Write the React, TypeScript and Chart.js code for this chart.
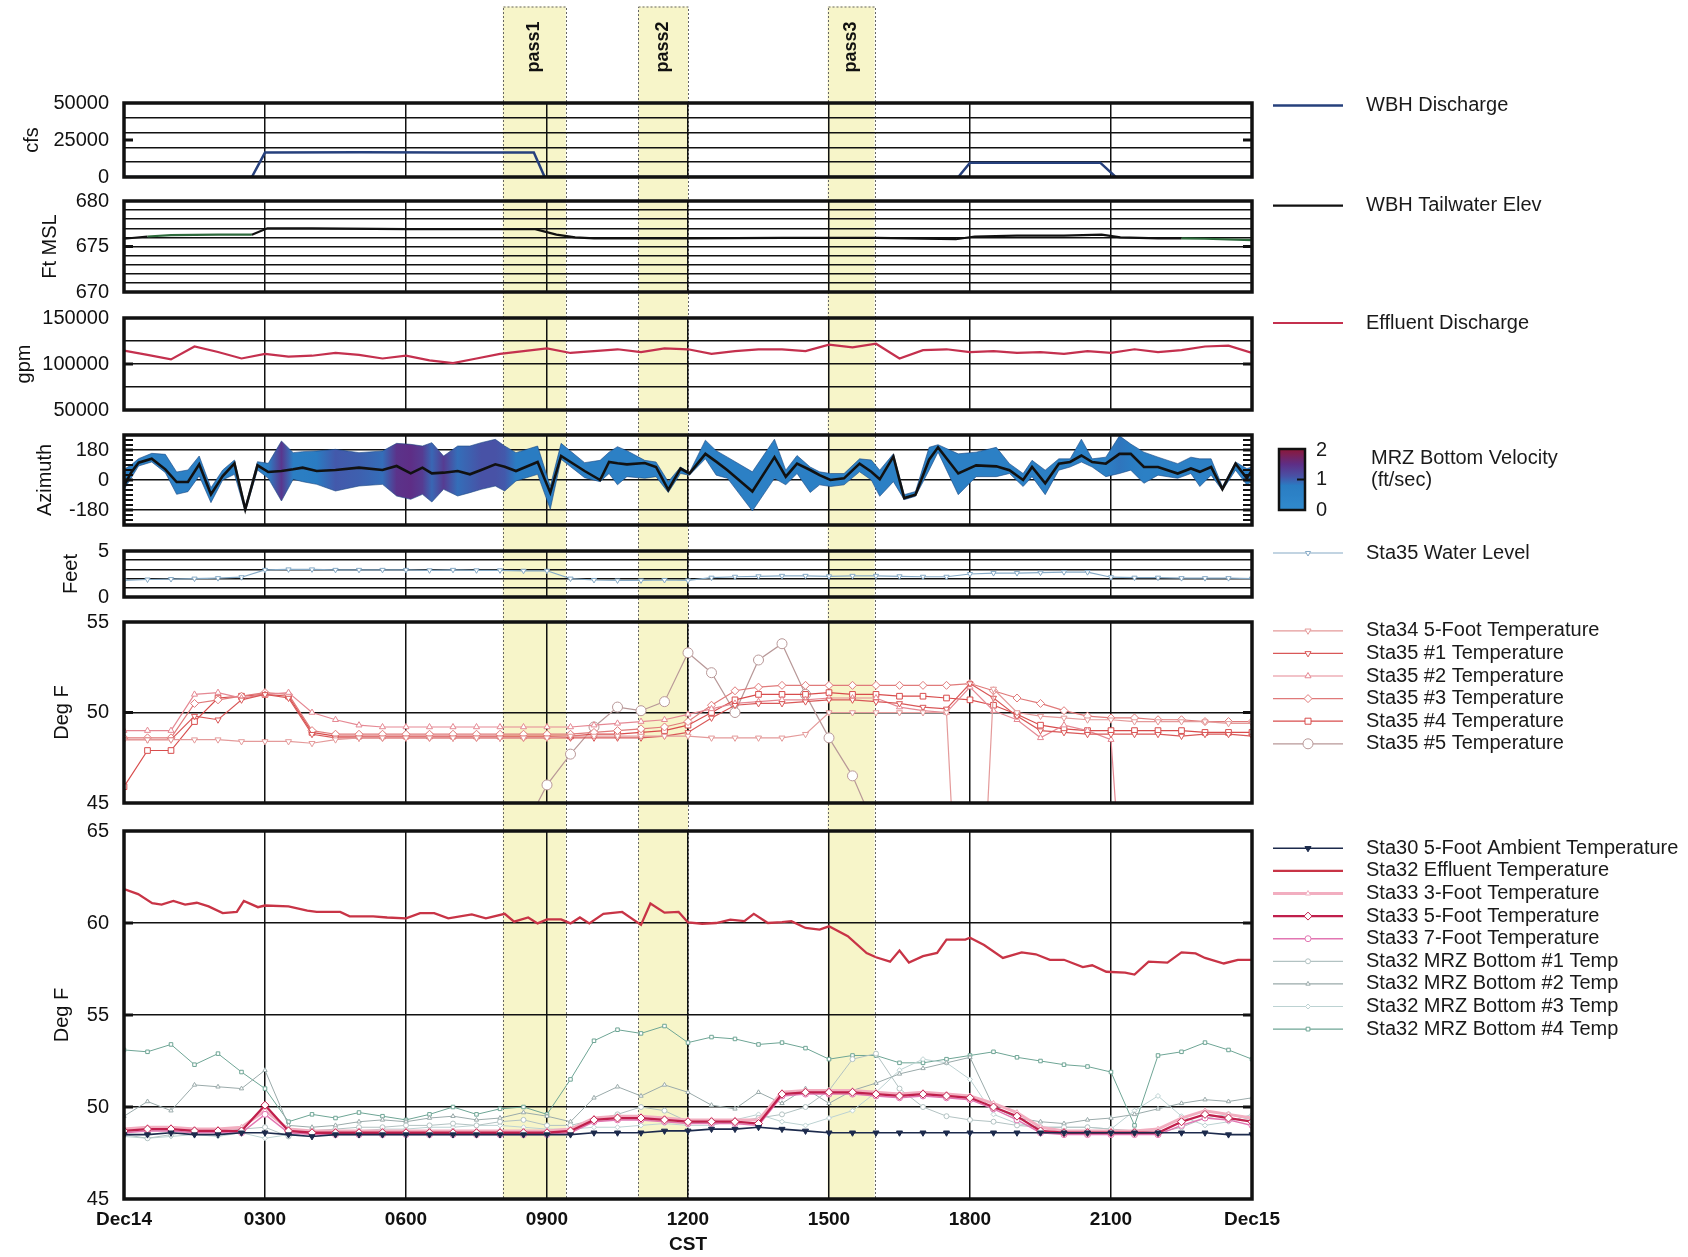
import React, { useEffect, useRef } from 'react';
import { Chart, registerables } from 'chart.js';

Chart.register(...registerables);

const FONT = "'Liberation Sans', Arial, Helvetica, sans-serif";
const W = 1688;
const H = 1257;
const PLOT_L = 124;
const PLOT_R = 1252;

// ---------------- axis / annotation data ----------------
const X_TICKS = [0, 3, 6, 9, 12, 15, 18, 21, 24];
const X_LABELS = ['Dec14', '0300', '0600', '0900', '1200', '1500', '1800', '2100', 'Dec15'];

const PASS_NAMES = ['pass1', 'pass2', 'pass3'];
const PASS_START = [8.06, 10.94, 14.97];
const PASS_END = [9.4, 12.0, 15.97];

const HALF_HOURS = [0, 0.5, 1, 1.5, 2, 2.5, 3, 3.5, 4, 4.5, 5, 5.5, 6, 6.5, 7, 7.5, 8, 8.5, 9, 9.5, 10, 10.5, 11, 11.5, 12, 12.5, 13, 13.5, 14, 14.5, 15, 15.5, 16, 16.5, 17, 17.5, 18, 18.5, 19, 19.5, 20, 20.5, 21, 21.5, 22, 22.5, 23, 23.5, 24];

// ---------------- panel 1: WBH discharge (cfs) ----------------
const WBH_T = [0, 2.72, 3.0, 5.0, 7.0, 8.72, 8.95, 17.75, 18.0, 20.77, 21.1, 24];
const WBH_Q = [0, 0, 16500, 16700, 16500, 16500, 0, 0, 9600, 9700, 0, 0];

// ---------------- panel 2: tailwater elevation (ft MSL) ----------------
const TW_T = [0, 0.5, 1.0, 2.0, 2.72, 3.05, 4, 6, 8.0, 8.75, 9.2, 9.6, 10, 12, 14, 16, 17.7, 18.1, 19, 20, 20.8, 21.2, 22, 22.5, 23, 24];
const TW_V = [675.85, 676.1, 676.25, 676.3, 676.3, 677.0, 677.0, 676.9, 676.9, 676.9, 676.3, 676.0, 675.9, 675.9, 675.95, 675.95, 675.8, 676.1, 676.2, 676.2, 676.3, 676.0, 675.9, 675.9, 675.85, 675.7];

// ---------------- panel 3: effluent discharge (gpm) ----------------
const EFF_Q = [
  114500, 110000, 105000, 119000, 113000, 106000, 111000, 108000, 109000, 112000,
  110000, 106000, 109000, 104000, 101000, 106000, 111000, 114000, 117000, 112000,
  114000, 116000, 113000, 117000, 116000, 111000, 114000, 116000, 116000, 114000,
  121000, 118000, 122000, 106000, 115000, 116000, 113000, 114000, 112000, 113000,
  111000, 114000, 112000, 116000, 113000, 115000, 119000, 120000, 112000,
];

// ---------------- panel 4: MRZ bottom velocity azimuth ----------------
const AZ_T = [
  0, 0.15, 0.31, 0.59, 0.88, 1.12, 1.36, 1.6, 1.85, 2.1,
  2.35, 2.58, 2.84, 3.07, 3.35, 3.6, 3.8, 4.1, 4.5, 5.0,
  5.5, 5.8, 6.1, 6.35, 6.55, 6.8, 7.1, 7.36, 7.6, 7.9,
  8.1, 8.34, 8.8, 9.07, 9.3, 9.8, 10.13, 10.32, 10.5, 10.7,
  11.08, 11.32, 11.58, 11.84, 12.03, 12.37, 12.6, 12.84, 13.37, 13.84,
  14.08, 14.32, 14.6, 14.8, 15.03, 15.32, 15.65, 15.9, 16.08, 16.37,
  16.6, 16.84, 17.13, 17.32, 17.75, 18.13, 18.56, 18.84, 19.13, 19.32,
  19.6, 19.89, 20.13, 20.37, 20.6, 20.89, 21.18, 21.42, 21.7, 22.0,
  22.42, 22.7, 22.89, 23.13, 23.37, 23.65, 23.89, 24,
];
const AZ_MID = [
  -36, 44, 104, 128, 64, -12, -12, 94, -86, 24,
  100, -176, 88, 48, 54, 64, 74, 54, 60, 74,
  60, 84, 40, 74, 40, 44, 54, 34, 60, 94,
  80, 54, 108, -76, 144, 54, 0, 108, 100, 94,
  102, 78, -59, 69, 39, 157, 110, 59, -69, 137,
  20, 98, 60, 29, 0, 10, 98, 50, 4, 141,
  -108, -88, 122, 196, 39, 88, 82, 59, 0, 78,
  -20, 98, 108, 147, 108, 98, 157, 157, 78, 78,
  39, 69, 49, 78, -55, 98, 10, 59,
];
const AZ_HI = [
  64, 90, 128, 160, 154, 48, 60, 144, -46, 60,
  120, -160, 110, 100, 234, 164, 170, 174, 184, 164,
  174, 220, 214, 204, 224, 144, 204, 204, 224, 244,
  204, 164, 204, -36, 220, 104, 118, 167, 200, 176,
  118, 108, -10, 78, 45, 239, 176, 137, 49, 245,
  59, 147, 78, 49, 39, 39, 127, 120, 59, 157,
  -88, -69, 196, 212, 157, 167, 196, 98, 39, 118,
  59, 127, 127, 245, 127, 137, 265, 216, 167, 137,
  98, 137, 127, 127, -39, 108, 69, 78,
];
const AZ_LO = [
  -56, 10, 84, 108, 44, -86, -70, 24, -136, 0,
  34, -190, 60, 10, -126, 4, -10, -26, -66, -36,
  -26, -96, -116, -86, -132, -56, -96, -76, -56, -36,
  -66, -6, 34, -176, 124, 14, -10, 39, -29, 20,
  10, 20, -75, 39, 29, 127, 29, 10, -186, 10,
  -29, 39, -75, -29, -39, -29, 49, 0, -98, -10,
  -118, -98, 59, 167, -88, 20, 20, 39, -39, 20,
  -88, 59, 78, 108, 78, 20, 39, 59, -20, 29,
  10, 39, -39, 29, -63, 59, -29, -10,
];
const AZ_VEL = [
  0.6, 0.6, 0.6, 0.6, 0.6, 0.6, 0.6, 0.6, 0.6, 0.6,
  0.6, 0.6, 0.6, 0.7, 1.4, 0.7, 0.7, 0.8, 1.05, 1.0,
  0.9, 1.45, 1.5, 1.35, 0.95, 1.35, 0.9, 1.0, 1.1, 1.1,
  1.05, 0.8, 0.8, 0.6, 0.6, 0.6, 0.6, 0.6, 0.6, 0.6,
  0.6, 0.6, 0.6, 0.6, 0.6, 0.6, 0.6, 0.6, 0.6, 0.6,
  0.6, 0.6, 0.6, 0.6, 0.6, 0.6, 0.6, 0.6, 0.6, 0.6,
  0.6, 0.6, 0.6, 0.6, 0.6, 0.6, 0.6, 0.6, 0.6, 0.6,
  0.6, 0.6, 0.6, 0.6, 0.6, 0.6, 0.85, 0.8, 0.6, 0.6,
  0.6, 0.6, 0.6, 0.6, 0.6, 0.6, 0.6, 0.6,
];

// ---------------- panel 5: Sta35 water level (ft) ----------------
const WL = [
  1.8, 1.9, 1.95, 2.0, 2.05, 2.15, 2.95, 3.0, 3.0, 2.95,
  2.95, 2.95, 2.95, 2.9, 2.95, 2.9, 2.9, 2.85, 2.85, 2.0,
  1.85, 1.8, 1.8, 1.85, 1.8, 2.1, 2.2, 2.25, 2.3, 2.3,
  2.25, 2.3, 2.3, 2.25, 2.2, 2.2, 2.5, 2.6, 2.6, 2.65,
  2.7, 2.7, 2.15, 2.1, 2.1, 2.05, 2.05, 2.05, 2.0,
];

// ---------------- panel 6: Sta34 / Sta35 temperatures (deg F) ----------------
const S34_5FT = [
  48.5, 48.5, 48.5, 48.5, 48.5, 48.4, 48.4, 48.4, 48.3, 48.5,
  48.6, 48.6, 48.6, 48.6, 48.6, 48.6, 48.6, 48.6, 48.6, 48.7,
  48.7, 48.7, 48.7, 48.7, 48.7, 48.6, 48.6, 48.6, 48.6, 48.8,
  50.0, 50.0, 50.0, 50.0, 50.0, 50.0, 25.0, 51.3, 50.0, 49.8,
  49.7, 49.6, 49.6, 49.5, 49.5, 49.5, 49.5, 49.4, 49.4,
];
const S35_1 = [
  48.5, 48.5, 48.5, 49.8, 49.6, 50.7, 51.0, 50.8, 48.8, 48.6,
  48.6, 48.6, 48.6, 48.6, 48.6, 48.6, 48.6, 48.6, 48.6, 48.6,
  48.6, 48.6, 48.6, 48.7, 48.9, 49.7, 50.4, 50.5, 50.5, 50.6,
  50.7, 50.7, 50.6, 50.5, 50.3, 50.2, 51.6, 50.8, 49.8, 49.0,
  48.9, 48.8, 48.8, 48.8, 48.8, 48.7, 48.8, 48.8, 48.7,
];
const S35_2 = [
  49.0, 49.0, 49.0, 51.0, 51.1, 50.8, 51.0, 51.1, 50.0, 49.6,
  49.3, 49.2, 49.2, 49.2, 49.2, 49.2, 49.2, 49.2, 49.2, 49.2,
  49.3, 49.4, 49.5, 49.6, 49.9, 50.2, 50.5, 50.6, 50.7, 50.7,
  50.8, 50.8, 50.8, 50.3, 50.1, 50.0, 51.4, 50.1, 49.6, 48.6,
  49.3, 49.0, 48.5, 30.0, null, null, null, null, null,
];
const S35_3 = [
  48.6, 48.6, 48.6, 50.5, 50.7, 50.9, 51.1, 51.0, 49.0, 48.8,
  48.8, 48.8, 48.8, 48.8, 48.8, 48.8, 48.8, 48.8, 48.8, 48.8,
  48.9, 49.0, 49.1, 49.2, 49.5, 50.4, 51.2, 51.4, 51.5, 51.5,
  51.5, 51.5, 51.5, 51.5, 51.5, 51.5, 51.6, 51.2, 50.8, 50.5,
  50.1, 49.8, 49.7, 49.7, 49.6, 49.6, 49.5, 49.5, 49.5,
];
const S35_4 = [
  45.9, 47.9, 47.9, 49.5, 50.8, 50.9, 51.0, 50.9, 48.9, 48.7,
  48.7, 48.7, 48.7, 48.7, 48.7, 48.7, 48.7, 48.7, 48.7, 48.7,
  48.8, 48.8, 48.9, 49.0, 49.3, 50.0, 50.7, 51.0, 51.0, 51.0,
  51.1, 51.0, 51.0, 50.9, 50.9, 50.8, 50.7, 50.4, 49.9, 49.3,
  49.1, 49.0, 49.0, 49.0, 49.0, 49.0, 48.9, 48.9, 48.9,
];
const S35_5 = [
  null, null, null, null, null, null, null, null, null, null,
  null, null, null, null, null, null, null, 43.5, 46.0, 47.7,
  49.2, 50.3, 50.1, 50.6, 53.3, 52.2, 50.0, 52.9, 53.8, 51.0,
  48.6, 46.5, 43.5, null, null, null, null, null, null, null,
  null, null, null, null, null, null, null, null, null,
];

// ---------------- panel 7: Sta30 / Sta32 / Sta33 temperatures (deg F) ----------------
const AMB_30 = [
  48.5, 48.5, 48.6, 48.5, 48.5, 48.6, 48.6, 48.5, 48.4, 48.5,
  48.5, 48.5, 48.5, 48.5, 48.5, 48.5, 48.5, 48.5, 48.5, 48.5,
  48.6, 48.6, 48.6, 48.7, 48.7, 48.8, 48.8, 48.9, 48.8, 48.7,
  48.6, 48.6, 48.6, 48.6, 48.6, 48.6, 48.6, 48.6, 48.6, 48.6,
  48.6, 48.6, 48.6, 48.6, 48.6, 48.6, 48.6, 48.5, 48.5,
];
const EFT_T = [
  0, 0.3, 0.6, 0.8, 1.05, 1.3, 1.55, 1.8, 2.1, 2.4,
  2.55, 2.85, 3.0, 3.5, 3.9, 4.1, 4.6, 4.8, 5.3, 5.6,
  6.0, 6.3, 6.6, 6.9, 7.4, 7.7, 8.1, 8.3, 8.6, 8.8,
  9.0, 9.3, 9.5, 9.7, 9.9, 10.2, 10.6, 11.0, 11.2, 11.5,
  11.8, 12.0, 12.3, 12.6, 12.9, 13.2, 13.4, 13.7, 14.0, 14.2,
  14.5, 14.8, 15.0, 15.4, 15.8, 16.0, 16.3, 16.5, 16.7, 17.0,
  17.3, 17.5, 17.9, 18.0, 18.3, 18.7, 19.1, 19.4, 19.7, 20.0,
  20.4, 20.6, 20.9, 21.3, 21.5, 21.8, 22.2, 22.5, 22.8, 23.0,
  23.4, 23.7, 24,
];
const EFT_V = [
  61.84, 61.57, 61.08, 61.0, 61.2, 61.0, 61.1, 60.9, 60.54, 60.6,
  61.2, 60.86, 60.95, 60.9, 60.67, 60.6, 60.6, 60.36, 60.36, 60.3,
  60.25, 60.54, 60.54, 60.25, 60.47, 60.25, 60.5, 60.07, 60.3, 59.98,
  60.2, 60.2, 59.98, 60.3, 59.98, 60.5, 60.6, 59.9, 61.06, 60.56,
  60.6, 60.03, 59.96, 60.0, 60.18, 60.1, 60.5, 60.0, 60.05, 60.1,
  59.73, 59.64, 59.82, 59.28, 58.37, 58.14, 57.9, 58.5, 57.85, 58.2,
  58.37, 59.1, 59.1, 59.2, 58.8, 58.1, 58.4, 58.3, 58.0, 58.0,
  57.6, 57.7, 57.35, 57.3, 57.2, 57.9, 57.85, 58.4, 58.35, 58.1,
  57.8, 58.0, 58.0,
];
const S33_3FT = [
  48.8, 48.9, 48.9, 48.8, 48.8, 48.9, 49.8, 48.8, 48.7, 48.7,
  48.7, 48.7, 48.7, 48.7, 48.7, 48.7, 48.7, 48.7, 48.7, 48.8,
  49.4, 49.5, 49.5, 49.4, 49.3, 49.3, 49.3, 49.3, 50.8, 50.9,
  50.9, 50.9, 50.8, 50.7, 50.8, 50.7, 50.6, 50.2, 49.7, 48.9,
  48.7, 48.7, 48.7, 48.7, 48.8, 49.4, 49.8, 49.6, 49.4,
];
const S33_5FT = [
  48.7, 48.8, 48.8, 48.7, 48.7, 48.7, 50.1, 48.7, 48.6, 48.6,
  48.6, 48.6, 48.6, 48.6, 48.6, 48.6, 48.6, 48.6, 48.6, 48.7,
  49.3, 49.4, 49.4, 49.3, 49.2, 49.2, 49.2, 49.1, 50.7, 50.8,
  50.8, 50.8, 50.7, 50.6, 50.7, 50.6, 50.5, 50.0, 49.5, 48.7,
  48.6, 48.6, 48.6, 48.6, 48.6, 49.2, 49.6, 49.4, 49.2,
];
const S33_7FT = [
  48.6, 48.7, 48.7, 48.6, 48.6, 48.6, 49.6, 48.6, 48.5, 48.5,
  48.5, 48.5, 48.5, 48.5, 48.5, 48.5, 48.5, 48.5, 48.5, 48.6,
  49.2, 49.3, 49.3, 49.2, 49.1, 49.1, 49.1, 49.0, 50.6, 50.7,
  50.7, 50.7, 50.6, 50.5, 50.6, 50.5, 50.4, 49.9, 49.3, 48.6,
  48.5, 48.5, 48.5, 48.5, 48.5, 49.0, 49.4, 49.3, 49.0,
];
const MRZ_1 = [
  48.5, 48.3, 48.5, 48.7, 48.6, 48.8, 48.9, 48.4, 48.7, 48.8,
  48.9, 48.9, 49.0, 49.0, 49.1, 49.0, 49.2, 49.3, 49.0, 49.0,
  49.3, 49.6, 50.0, 49.8, 49.2, 49.1, 49.2, 49.4, 49.6, 50.0,
  50.9, 52.6, 52.9, 51.0, 50.0, 49.5, 49.3, 49.2, 49.0, 48.9,
  48.9, 48.9, 48.8, 48.7, 48.6, 48.9, 49.4, 49.6, 49.3,
];
const MRZ_2 = [
  49.5, 50.3, 49.8, 51.2, 51.1, 51.0, 52.0, 49.0, 48.9, 49.0,
  49.2, 49.3, 49.2, 49.4, 49.5, 49.3, 49.4, 49.7, 49.5, 49.2,
  50.5, 51.1, 50.6, 51.2, 50.8, 50.1, 49.9, 50.8, 50.2, 51.0,
  50.2, 50.9, 51.3, 51.8, 52.1, 52.4, 52.7, 50.0, 49.4, 49.2,
  49.1, 49.3, 49.4, 49.6, 49.9, 50.2, 50.4, 50.3, 50.5,
];
const MRZ_3 = [
  48.4, 48.3, 48.4, 48.5, 48.4, 48.6, 48.3, 48.5, 48.6, 48.7,
  48.7, 48.8, 48.8, 48.9, 48.9, 49.0, 49.0, 48.9, 48.8, 48.8,
  48.9, 48.9, 49.0, 49.1, 49.0, 49.0, 49.3, 49.6, 49.2, 49.0,
  49.4, 49.8, 50.8, 52.0, 52.6, 52.4, 51.5, 49.6, 49.1, 48.9,
  48.9, 48.9, 48.8, 49.8, 50.6, 49.5, 49.0, 49.2, 49.6,
];
const MRZ_4 = [
  53.1, 53.0, 53.4, 52.3, 52.9, 51.9, 51.0, 49.2, 49.6, 49.4,
  49.7, 49.5, 49.3, 49.6, 50.0, 49.6, 49.9, 50.0, 49.6, 51.5,
  53.6, 54.2, 54.0, 54.4, 53.5, 53.8, 53.7, 53.4, 53.5, 53.2,
  52.6, 52.8, 52.8, 52.4, 52.4, 52.6, 52.8, 53.0, 52.7, 52.5,
  52.3, 52.2, 51.9, 49.0, 52.8, 53.0, 53.5, 53.1, 52.6,
];

// ---------------- helpers ----------------
function xy(xs: number[], ys: (number | null)[]) {
  return ys.map((y, i) => ({ x: xs[i], y }));
}

type Pt = { style: string; r: number; rot?: number; fill?: string };

function series(label: string, xs: number[], ys: (number | null)[], color: string, width: number, pt?: Pt, extra: any = {}) {
  return {
    label,
    data: xy(xs, ys),
    borderColor: color,
    backgroundColor: color,
    borderWidth: width,
    pointRadius: pt ? pt.r : 0,
    pointStyle: pt ? pt.style : 'circle',
    pointRotation: pt && pt.rot ? pt.rot : 0,
    pointBackgroundColor: pt && pt.fill ? pt.fill : '#ffffff',
    pointBorderColor: color,
    pointBorderWidth: 1,
    tension: 0,
    fill: false,
    spanGaps: false,
    ...extra,
  };
}

const VEL_STOPS: [number, number[]][] = [
  [0, [48, 138, 205]],
  [0.8, [42, 124, 194]],
  [1.1, [72, 82, 166]],
  [1.5, [94, 46, 134]],
  [2, [140, 24, 56]],
];
function velColor(v: number) {
  const t = Math.max(0, Math.min(2, v));
  for (let i = 0; i < VEL_STOPS.length - 1; i++) {
    const [a, ca] = VEL_STOPS[i];
    const [b, cb] = VEL_STOPS[i + 1];
    if (t >= a && t <= b) {
      const f = (t - a) / (b - a);
      const c = ca.map((x, k) => Math.round(x + (cb[k] - x) * f));
      return `rgb(${c[0]},${c[1]},${c[2]})`;
    }
  }
  return 'rgb(48,138,205)';
}

function drawMarker(ctx: CanvasRenderingContext2D, style: string, x: number, y: number, r: number, rot: number, stroke: string, fill: string) {
  ctx.save();
  ctx.translate(x, y);
  ctx.rotate(((rot || 0) * Math.PI) / 180);
  ctx.beginPath();
  if (style === 'triangle') {
    ctx.moveTo(0, -r);
    ctx.lineTo(r * 0.87, r * 0.5);
    ctx.lineTo(-r * 0.87, r * 0.5);
    ctx.closePath();
  } else if (style === 'rect') {
    ctx.rect(-r * 0.75, -r * 0.75, r * 1.5, r * 1.5);
  } else if (style === 'rectRot') {
    ctx.moveTo(0, -r);
    ctx.lineTo(r, 0);
    ctx.lineTo(0, r);
    ctx.lineTo(-r, 0);
    ctx.closePath();
  } else {
    ctx.arc(0, 0, r, 0, Math.PI * 2);
  }
  ctx.fillStyle = fill;
  ctx.fill();
  ctx.lineWidth = 1;
  ctx.strokeStyle = stroke;
  ctx.stroke();
  ctx.restore();
}

const LEG_X0 = 1273;
const LEG_X1 = 1343;
const LEG_TX = 1366;

// ---------------- plugins ----------------
const passPlugin = {
  id: 'passBands',
  beforeDraw(chart: any, _a: any, opts: any) {
    if (!opts || !opts.show) return;
    const ctx = chart.ctx as CanvasRenderingContext2D;
    const xs = chart.scales.x;
    ctx.save();
    PASS_START.forEach((s, i) => {
      const x0 = xs.getPixelForValue(s);
      const x1 = xs.getPixelForValue(PASS_END[i]);
      ctx.fillStyle = '#f7f5c9';
      ctx.fillRect(x0, opts.top, x1 - x0, opts.bottom - opts.top);
      ctx.setLineDash([2, 2]);
      ctx.strokeStyle = '#666';
      ctx.lineWidth = 1;
      ctx.strokeRect(Math.round(x0) + 0.5, opts.top + 0.5, Math.round(x1 - x0), opts.bottom - opts.top);
      ctx.setLineDash([]);
      ctx.save();
      ctx.translate((x0 + x1) / 2, opts.labelY);
      ctx.rotate(-Math.PI / 2);
      ctx.font = `bold 18px ${FONT}`;
      ctx.fillStyle = '#111';
      ctx.textAlign = 'center';
      ctx.textBaseline = 'middle';
      ctx.fillText(PASS_NAMES[i], 0, 0);
      ctx.restore();
    });
    ctx.restore();
  },
};

const boxPlugin = {
  id: 'box',
  afterDatasetsDraw(chart: any, _a: any, opts: any) {
    const ctx = chart.ctx as CanvasRenderingContext2D;
    const a = chart.chartArea;
    const y = chart.scales.y;
    ctx.save();
    ctx.strokeStyle = '#111';
    ctx.lineWidth = 2;
    ((opts && opts.minor) || []).forEach((v: number) => {
      const py = y.getPixelForValue(v);
      ctx.beginPath();
      ctx.moveTo(a.left, py);
      ctx.lineTo(a.left + 9, py);
      ctx.moveTo(a.right, py);
      ctx.lineTo(a.right - 9, py);
      ctx.stroke();
    });
    ctx.lineWidth = 3;
    ((opts && opts.marks) || []).forEach((v: number) => {
      const py = y.getPixelForValue(v);
      ctx.beginPath();
      ctx.moveTo(a.left, py);
      ctx.lineTo(a.left + 9, py);
      ctx.moveTo(a.right, py);
      ctx.lineTo(a.right - 9, py);
      ctx.stroke();
    });
    ctx.lineWidth = 3.5;
    ctx.strokeRect(a.left, a.top, a.right - a.left, a.bottom - a.top);
    ctx.restore();
  },
};

const sideLegendPlugin = {
  id: 'sideLegend',
  afterDraw(chart: any, _a: any, opts: any) {
    if (!opts || opts.y0 == null) return;
    const ctx = chart.ctx as CanvasRenderingContext2D;
    let k = 0;
    chart.data.datasets.forEach((ds: any) => {
      if (!ds.label || ds.label.startsWith('_')) return;
      const y = opts.y0 + k * opts.dy;
      k++;
      ctx.save();
      ctx.strokeStyle = ds.borderColor;
      ctx.lineWidth = Math.max(1.2, ds.borderWidth);
      ctx.beginPath();
      ctx.moveTo(LEG_X0, y);
      ctx.lineTo(LEG_X1, y);
      ctx.stroke();
      if (ds.pointRadius > 0) {
        drawMarker(ctx, ds.pointStyle, (LEG_X0 + LEG_X1) / 2, y, ds.pointRadius, ds.pointRotation, ds.pointBorderColor, ds.pointBackgroundColor);
      }
      ctx.fillStyle = '#1a1a1a';
      ctx.font = `20px ${FONT}`;
      ctx.textBaseline = 'middle';
      ctx.textAlign = 'left';
      ctx.fillText(ds.label, LEG_TX, y);
      ctx.restore();
    });
  },
};

const velBarPlugin = {
  id: 'velBar',
  afterDraw(chart: any, _a: any, opts: any) {
    if (!opts || !opts.show) return;
    const ctx = chart.ctx as CanvasRenderingContext2D;
    const x = 1279;
    const w = 26;
    const y0 = 449;
    const y1 = 510;
    ctx.save();
    const g = ctx.createLinearGradient(0, y1, 0, y0);
    for (let i = 0; i <= 20; i++) g.addColorStop(i / 20, velColor((i / 20) * 2));
    ctx.fillStyle = g;
    ctx.fillRect(x, y0, w, y1 - y0);
    ctx.strokeStyle = '#111';
    ctx.lineWidth = 2.5;
    ctx.strokeRect(x, y0, w, y1 - y0);
    ctx.lineWidth = 2;
    ctx.beginPath();
    ctx.moveTo(x + w - 8, (y0 + y1) / 2);
    ctx.lineTo(x + w, (y0 + y1) / 2);
    ctx.stroke();
    ctx.fillStyle = '#1a1a1a';
    ctx.font = `20px ${FONT}`;
    ctx.textBaseline = 'middle';
    ctx.textAlign = 'left';
    ctx.fillText('2', 1316, y0 + 1);
    ctx.fillText('1', 1316, (y0 + y1) / 2);
    ctx.fillText('0', 1316, y1);
    ctx.fillText('MRZ Bottom Velocity', 1371, 458);
    ctx.fillText('(ft/sec)', 1371, 480);
    ctx.restore();
  },
};

// ---------------- panel configuration ----------------
interface PanelSpec {
  top: number;
  bottom: number;
  min: number;
  max: number;
  grid: number[];
  labels: number[];
  hide?: number[];
  marks?: number[];
  minor?: number[];
  title: string;
  titleX: number;
  showX?: boolean;
  datasets: any[];
  legendY0?: number;
  pass?: boolean;
  colorbar?: boolean;
}

function makeConfig(s: PanelSpec): any {
  const xH = s.showX ? 58 : 0;
  return {
    type: 'line',
    data: { datasets: s.datasets },
    options: {
      animation: false,
      responsive: false,
      maintainAspectRatio: false,
      devicePixelRatio: 1,
      events: [],
      layout: { padding: { left: 0, right: W - PLOT_R, top: s.top, bottom: H - s.bottom - xH } },
      plugins: {
        legend: { display: false },
        tooltip: { enabled: false },
        box: { marks: s.marks || [], minor: s.minor || [] },
        sideLegend: { y0: s.legendY0, dy: 22.6 },
        passBands: { show: !!s.pass, top: 6.5, bottom: 1199, labelY: 47 },
        velBar: { show: !!s.colorbar },
      },
      scales: {
        x: {
          type: 'linear',
          min: 0,
          max: 24,
          afterBuildTicks: (sc: any) => {
            sc.ticks = X_TICKS.map((v) => ({ value: v }));
          },
          afterFit: (sc: any) => {
            sc.height = xH;
          },
          ticks: {
            display: !!s.showX,
            autoSkip: false,
            maxRotation: 0,
            padding: 9,
            color: '#111',
            font: { family: FONT, size: 19, weight: 'bold' },
            callback: (v: number) => {
              const i = X_TICKS.indexOf(v);
              return i >= 0 ? X_LABELS[i] : '';
            },
          },
          grid: { color: '#111', lineWidth: 1.5, drawTicks: false },
          border: { display: false },
          title: {
            display: !!s.showX,
            text: 'CST',
            color: '#111',
            font: { family: FONT, size: 19, weight: 'bold', lineHeight: 1.0 },
            padding: { top: 0, bottom: 2.5 },
          },
        },
        y: {
          type: 'linear',
          min: s.min,
          max: s.max,
          afterBuildTicks: (sc: any) => {
            sc.ticks = s.grid.map((v) => ({ value: v }));
          },
          afterFit: (sc: any) => {
            sc.width = PLOT_L;
          },
          ticks: {
            autoSkip: false,
            padding: 15,
            color: '#111',
            font: { family: FONT, size: 20 },
            callback: (v: number) => (s.labels.includes(v) ? String(v) : ''),
          },
          grid: {
            color: (c: any) => (s.hide && c.tick && s.hide.includes(c.tick.value) ? 'rgba(0,0,0,0)' : '#111'),
            lineWidth: 1.5,
            drawTicks: false,
          },
          border: { display: false },
          title: {
            display: true,
            text: s.title,
            color: '#111',
            font: { family: FONT, size: 20 },
            padding: { top: s.titleX - 12, bottom: 0 },
          },
        },
      },
    },
    plugins: [passPlugin, boxPlugin, sideLegendPlugin, velBarPlugin],
  };
}

function azimuthFill(ctx: any) {
  const chart = ctx.chart;
  if (!chart || !chart.chartArea || !chart.scales || !chart.scales.x) return 'rgb(42,124,194)';
  const xs = chart.scales.x;
  const span = xs.right - xs.left;
  const g = chart.ctx.createLinearGradient(xs.left, 0, xs.right, 0);
  AZ_T.forEach((t, i) => {
    const p = (xs.getPixelForValue(t) - xs.left) / span;
    g.addColorStop(Math.max(0, Math.min(1, p)), velColor(AZ_VEL[i]));
  });
  return g;
}

function buildConfigs(): any[] {
  const p1 = makeConfig({
    top: 103, bottom: 177, min: 0, max: 50000,
    grid: [0, 10000, 20000, 25000, 30000, 40000, 50000],
    labels: [0, 25000, 50000], hide: [25000], marks: [25000],
    title: 'cfs', titleX: 32, pass: true, legendY0: 105.5,
    datasets: [series('WBH Discharge', WBH_T, WBH_Q, '#26407c', 2.5)],
  });
  const p2 = makeConfig({
    top: 201, bottom: 292, min: 670, max: 680,
    grid: [670, 671, 672, 673, 674, 675, 676, 677, 678, 679, 680],
    labels: [670, 675, 680], marks: [675],
    title: 'Ft MSL', titleX: 50, legendY0: 205.6,
    datasets: [
      series('WBH Tailwater Elev', TW_T, TW_V, '#111111', 2.2, undefined, {
        segment: {
          borderColor: (c: any) =>
            (c.p0.parsed.x >= 0.5 && c.p1.parsed.x <= 2.72) || c.p0.parsed.x >= 22.5 ? '#2d6b3c' : '#111111',
        },
      }),
    ],
  });
  const p3 = makeConfig({
    top: 318, bottom: 410, min: 50000, max: 150000,
    grid: [50000, 75000, 100000, 125000, 150000],
    labels: [50000, 100000, 150000], marks: [100000],
    title: 'gpm', titleX: 24, legendY0: 323,
    datasets: [series('Effluent Discharge', HALF_HOURS, EFF_Q, '#c4304e', 2.2)],
  });
  const p4 = makeConfig({
    top: 435, bottom: 525, min: -270, max: 270,
    grid: [-180, 0, 180], labels: [-180, 0, 180], marks: [-180, 0, 180],
    minor: [-240, -210, -150, -120, -90, -60, -30, 30, 60, 90, 120, 150, 210, 240],
    title: 'Azimuth', titleX: 45, colorbar: true,
    datasets: [
      series('_mid', AZ_T, AZ_MID, '#111111', 2.6),
      series('_hi', AZ_T, AZ_HI, 'rgba(25,70,130,0.75)', 0.8),
      series('_lo', AZ_T, AZ_LO, 'rgba(25,70,130,0.75)', 0.8, undefined, {
        fill: '-1',
        backgroundColor: azimuthFill,
      }),
    ],
  });
  const p5 = makeConfig({
    top: 551, bottom: 597, min: 0, max: 5,
    grid: [0, 1, 2, 3, 4, 5], labels: [0, 5],
    title: 'Feet', titleX: 71, legendY0: 553,
    datasets: [series('Sta35 Water Level', HALF_HOURS, WL, '#86aac6', 1.2, { style: 'triangle', r: 3, rot: 180 })],
  });
  const p6 = makeConfig({
    top: 622, bottom: 803, min: 45, max: 55,
    grid: [45, 50, 55], labels: [45, 50, 55], marks: [50],
    title: 'Deg F', titleX: 62, legendY0: 630.8,
    datasets: [
      series('Sta34 5-Foot Temperature', HALF_HOURS, S34_5FT, '#e49a9a', 1.2, { style: 'triangle', r: 3.5, rot: 180 }),
      series('Sta35 #1 Temperature', HALF_HOURS, S35_1, '#d95858', 1.2, { style: 'triangle', r: 3.5, rot: 180 }),
      series('Sta35 #2 Temperature', HALF_HOURS, S35_2, '#e58893', 1.2, { style: 'triangle', r: 3.5 }),
      series('Sta35 #3 Temperature', HALF_HOURS, S35_3, '#e07a7a', 1.2, { style: 'rectRot', r: 4 }),
      series('Sta35 #4 Temperature', HALF_HOURS, S35_4, '#d84c4c', 1.2, { style: 'rect', r: 4 }),
      series('Sta35 #5 Temperature', HALF_HOURS, S35_5, '#b89898', 1.2, { style: 'circle', r: 5 }),
    ],
  });
  const p7 = makeConfig({
    top: 831, bottom: 1199, min: 45, max: 65,
    grid: [45, 50, 55, 60, 65], labels: [45, 50, 55, 60, 65], marks: [50, 55, 60],
    title: 'Deg F', titleX: 62, showX: true, legendY0: 848.3,
    datasets: [
      series('Sta30 5-Foot Ambient Temperature', HALF_HOURS, AMB_30, '#1c2a4c', 1.6, { style: 'triangle', r: 3.5, rot: 180, fill: '#1c2a4c' }, { order: 0 }),
      series('Sta32 Effluent Temperature', EFT_T, EFT_V, '#c83446', 2.3, undefined, { order: 1 }),
      series('Sta33 3-Foot Temperature', HALF_HOURS, S33_3FT, '#f2aec0', 3, { style: 'triangle', r: 3 }, { order: 4 }),
      series('Sta33 5-Foot Temperature', HALF_HOURS, S33_5FT, '#c01f4c', 2.3, { style: 'rectRot', r: 4 }, { order: 2 }),
      series('Sta33 7-Foot Temperature', HALF_HOURS, S33_7FT, '#e276b2', 1.5, { style: 'circle', r: 3 }, { order: 3 }),
      series('Sta32 MRZ Bottom #1 Temp', HALF_HOURS, MRZ_1, '#b2c2c2', 1, { style: 'circle', r: 2.5 }, { order: 5 }),
      series('Sta32 MRZ Bottom #2 Temp', HALF_HOURS, MRZ_2, '#9aaaaa', 1, { style: 'triangle', r: 2.5 }, { order: 6 }),
      series('Sta32 MRZ Bottom #3 Temp', HALF_HOURS, MRZ_3, '#bcd2d2', 1, { style: 'rectRot', r: 2.5 }, { order: 7 }),
      series('Sta32 MRZ Bottom #4 Temp', HALF_HOURS, MRZ_4, '#6ea595', 1, { style: 'rect', r: 2.5 }, { order: 8 }),
    ],
  });
  return [p1, p2, p3, p4, p5, p6, p7];
}

Chart.defaults.font.family = FONT;
Chart.defaults.color = '#111';

export default function App() {
  const refs = useRef<(HTMLCanvasElement | null)[]>([]);
  useEffect(() => {
    const configs = buildConfigs();
    const charts = configs.map((cfg, i) => new Chart(refs.current[i] as HTMLCanvasElement, cfg));
    return () => {
      charts.forEach((c) => c.destroy());
    };
  }, []);
  return (
    <div style={{ position: 'absolute', left: 0, top: 0, width: W, height: H, background: '#ffffff', overflow: 'hidden' }}>
      {[0, 1, 2, 3, 4, 5, 6].map((i) => (
        <canvas
          key={i}
          ref={(el) => {
            refs.current[i] = el;
          }}
          width={W}
          height={H}
          style={{ position: 'absolute', left: 0, top: 0, width: W, height: H }}
        />
      ))}
    </div>
  );
}
